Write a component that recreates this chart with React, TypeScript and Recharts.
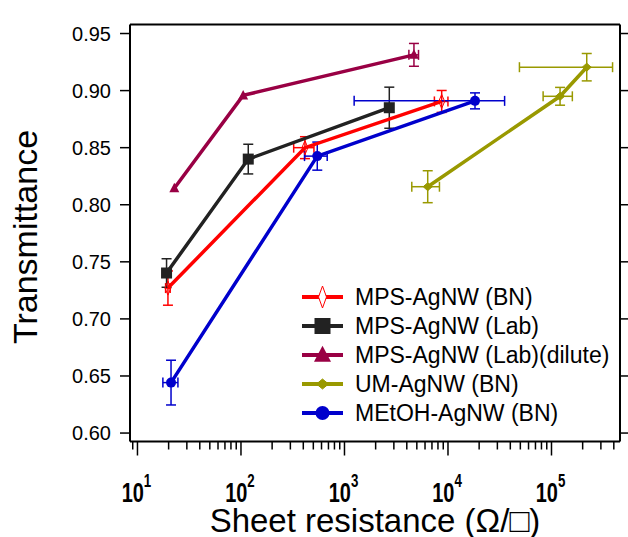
import React from "react";
import { ScatterChart, Scatter, XAxis, YAxis, ErrorBar, Legend } from "recharts";

const FONT = '"Liberation Sans", Arial, sans-serif';

const seriesNames = [
  "MPS-AgNW (BN)",
  "MPS-AgNW (Lab)",
  "MPS-AgNW (Lab)(dilute)",
  "UM-AgNW (BN)",
  "MEtOH-AgNW (BN)",
];
const seriesColors = ["#ff0000", "#222222", "#990044", "#999900", "#0000cc"];

// sheet resistance (ohm/sq), transmittance, and their errors
const mpsBnR = [19.7, 415, 8690];
const mpsBnT = [0.727, 0.85, 0.8905];
const mpsBnRErr = [1, 92, 1300];
const mpsBnTErr = [0.015, 0.0096, 0.0096];

const mpsLabR = [19.1, 117.6, 2710];
const mpsLabT = [0.7402, 0.84, 0.885];
const mpsLabRErr = [0, 0, 0];
const mpsLabTErr = [0.0125, 0.013, 0.018];

const diluteR = [22.7, 105, 4690];
const diluteT = [0.8144, 0.8958, 0.9313];
const diluteRErr = [0, 0, 500];
const diluteTErr = [0, 0, 0.01];

const umR = [6370, 121000, 219000];
const umT = [0.8158, 0.895, 0.9205];
const umRErr = [1900, 38000, 170000];
const umTErr = [0.014, 0.0078, 0.012];

const meR = [21.1, 546, 18240];
const meT = [0.6442, 0.8426, 0.891];
const meRErr = [3.5, 135, 17000];
const meTErr = [0.0196, 0.0123, 0.007];

const xDomain = [8.47, 459000];
const yDomain = [0.5926, 0.9579];
const xMajor = [10, 100, 1000, 10000, 100000];
const xMinorSteps = [1, 2, 3, 4, 5, 6, 7, 8, 9];
const xDecades = [1, 10, 100, 1000, 10000, 100000];
const yTicks = [0.6, 0.65, 0.7, 0.75, 0.8, 0.85, 0.9, 0.95];

const xTicks: number[] = [];
xDecades.forEach((d) =>
  xMinorSteps.forEach((m) => {
    const v = d * m;
    if (v >= xDomain[0] && v <= xDomain[1]) xTicks.push(v);
  })
);

const zip = (r: number[], t: number[], er: number[], et: number[]) =>
  r.map((v, i) => ({ r: v, t: t[i], ex: er[i], ey: et[i] }));

const mpsBn = zip(mpsBnR, mpsBnT, mpsBnRErr, mpsBnTErr);
const mpsLab = zip(mpsLabR, mpsLabT, mpsLabRErr, mpsLabTErr);
const dilute = zip(diluteR, diluteT, diluteRErr, diluteTErr);
const um = zip(umR, umT, umRErr, umTErr);
const me = zip(meR, meT, meRErr, meTErr);

// marker shapes
const Diamond = ({ cx, cy, w, h, color, fill }: any) => (
  <path
    d={`M${cx},${cy - h / 2} L${cx + w / 2},${cy} L${cx},${cy + h / 2} L${cx - w / 2},${cy} Z`}
    fill={fill}
    stroke={color}
    strokeWidth={1}
  />
);
const Square = ({ cx, cy, s, color }: any) => (
  <rect x={cx - s / 2} y={cy - s / 2} width={s} height={s} fill={color} />
);
const Triangle = ({ cx, cy, s, color }: any) => (
  <path d={`M${cx},${cy - s * 0.55} L${cx + s / 2},${cy + s * 0.4} L${cx - s / 2},${cy + s * 0.4} Z`} fill={color} />
);
const Dot = ({ cx, cy, r, color }: any) => <circle cx={cx} cy={cy} r={r} fill={color} />;

const markerFor = (i: number, cx: number, cy: number, big: boolean) => {
  const c = seriesColors[i];
  if (i === 0) return <Diamond cx={cx} cy={cy} w={big ? 8 : 6} h={big ? 22 : 14} color={c} fill={big ? "#fff" : "none"} />;
  if (i === 1) return <Square cx={cx} cy={cy} s={big ? 16 : 11} color={c} />;
  if (i === 2) return <Triangle cx={cx} cy={cy} s={big ? 17 : 10} color={c} />;
  if (i === 3) return <Diamond cx={cx} cy={cy} w={big ? 12 : 9} h={big ? 10 : 8} color={c} fill={c} />;
  return <Dot cx={cx} cy={cy} r={big ? 7 : 5} color={c} />;
};

const BottomTick = ({ x, y, payload }: any) => {
  const v = payload.value;
  const major = xMajor.includes(v);
  const exp = Math.round(Math.log10(v));
  return (
    <g>
      <line x1={x} x2={x} y1={y} y2={y + (major ? 14 : 8)} stroke="#000" strokeWidth={1.5} />
      {major && (
        <g transform={`translate(${x - 1},${y + 60}) scale(0.74,1)`}>
          <text x={0} y={0} textAnchor="middle" fontFamily={FONT} fontSize={27} fontWeight="bold" fill="#000">
            10
            <tspan dy={-15} fontSize={18}>
              {exp}
            </tspan>
          </text>
        </g>
      )}
    </g>
  );
};

const TopTick = ({ x, y, payload }: any) => {
  const major = xMajor.includes(payload.value);
  return <line x1={x} x2={x} y1={y} y2={y - (major ? 13 : 6)} stroke="#000" strokeWidth={1.5} />;
};

const LeftTick = ({ x, y, payload }: any) => (
  <g>
    <line x1={x - 10} x2={x} y1={y} y2={y} stroke="#000" strokeWidth={1.5} />
    <text x={x - 19} y={y + 7} textAnchor="end" fontFamily={FONT} fontSize={20} fill="#000">
      {payload.value.toFixed(2)}
    </text>
  </g>
);

const RightTick = ({ x, y }: any) => <line x1={x} x2={x + 8} y1={y} y2={y} stroke="#000" strokeWidth={1.5} />;

const LegendBox = () => (
  <svg width={320} height={150}>
    {seriesNames.map((n, i) => {
      const cy = 15 + i * 29;
      return (
        <g key={n}>
          <line x1={2} x2={43} y1={cy} y2={cy} stroke={seriesColors[i]} strokeWidth={4} />
          {markerFor(i, 22.5, cy, true)}
          <text x={55} y={cy + 8} fontFamily={FONT} fontSize={23} fill="#000">
            {n}
          </text>
        </g>
      );
    })}
  </svg>
);

const seriesData = [mpsBn, mpsLab, dilute, um, me];

export default function App() {
  return (
    <div style={{ position: "absolute", left: 0, top: 0, width: 628, height: 537, background: "#fff" }}>
      <ScatterChart width={628} height={537} margin={{ top: 4.5, right: 0, bottom: 35.5, left: 30 }}>
        <XAxis
          xAxisId="b"
          dataKey="r"
          type="number"
          scale="log"
          domain={xDomain}
          allowDataOverflow
          ticks={xTicks}
          interval={0}
          height={60}
          tickSize={0}
          tickMargin={0}
          tickLine={false}
          tick={<BottomTick />}
          axisLine={{ stroke: "#000", strokeWidth: 2 }}
        />
        <XAxis
          xAxisId="t"
          orientation="top"
          type="number"
          scale="log"
          domain={xDomain}
          allowDataOverflow
          ticks={xTicks}
          interval={0}
          height={20}
          tickSize={0}
          tickMargin={0}
          tickLine={false}
          tick={<TopTick />}
          axisLine={{ stroke: "#000", strokeWidth: 2 }}
        />
        <YAxis
          yAxisId="l"
          dataKey="t"
          type="number"
          domain={yDomain}
          allowDataOverflow
          ticks={yTicks}
          interval={0}
          width={100}
          tickSize={0}
          tickMargin={0}
          tickLine={false}
          tick={<LeftTick />}
          axisLine={{ stroke: "#000", strokeWidth: 2 }}
        />
        <YAxis
          yAxisId="r"
          orientation="right"
          type="number"
          domain={yDomain}
          allowDataOverflow
          ticks={yTicks}
          interval={0}
          width={8}
          tickSize={0}
          tickMargin={0}
          tickLine={false}
          tick={<RightTick />}
          axisLine={{ stroke: "#000", strokeWidth: 2 }}
        />
        {seriesData.map((d, i) => (
          <Scatter
            key={seriesNames[i]}
            name={seriesNames[i]}
            data={d}
            xAxisId="b"
            yAxisId="l"
            isAnimationActive={false}
            line={{ stroke: seriesColors[i], strokeWidth: 3.5 }}
            shape={(p: any) => markerFor(i, p.cx, p.cy, false)}
          >
            <ErrorBar dataKey="ey" direction="y" width={5} stroke={seriesColors[i]} strokeWidth={1.5} isAnimationActive={false} />
            <ErrorBar dataKey="ex" direction="x" width={5} stroke={seriesColors[i]} strokeWidth={1.5} isAnimationActive={false} />
          </Scatter>
        ))}
        <Legend
          layout="vertical"
          align="center"
          verticalAlign="middle"
          content={<LegendBox />}
          wrapperStyle={{ left: 300, top: 282, width: 320, height: 150 }}
        />
      </ScatterChart>
      <svg width={628} height={537} style={{ position: "absolute", left: 0, top: 0, pointerEvents: "none" }}>
        <text
          transform="translate(37,237) rotate(-90)"
          textAnchor="middle"
          fontFamily={FONT}
          fontSize={34}
          fill="#000"
        >
          Transmittance
        </text>
        <text x={375} y={532} textAnchor="middle" fontFamily={FONT} fontSize={33} fill="#000">
          Sheet resistance (Ω/□)
        </text>
      </svg>
    </div>
  );
}
